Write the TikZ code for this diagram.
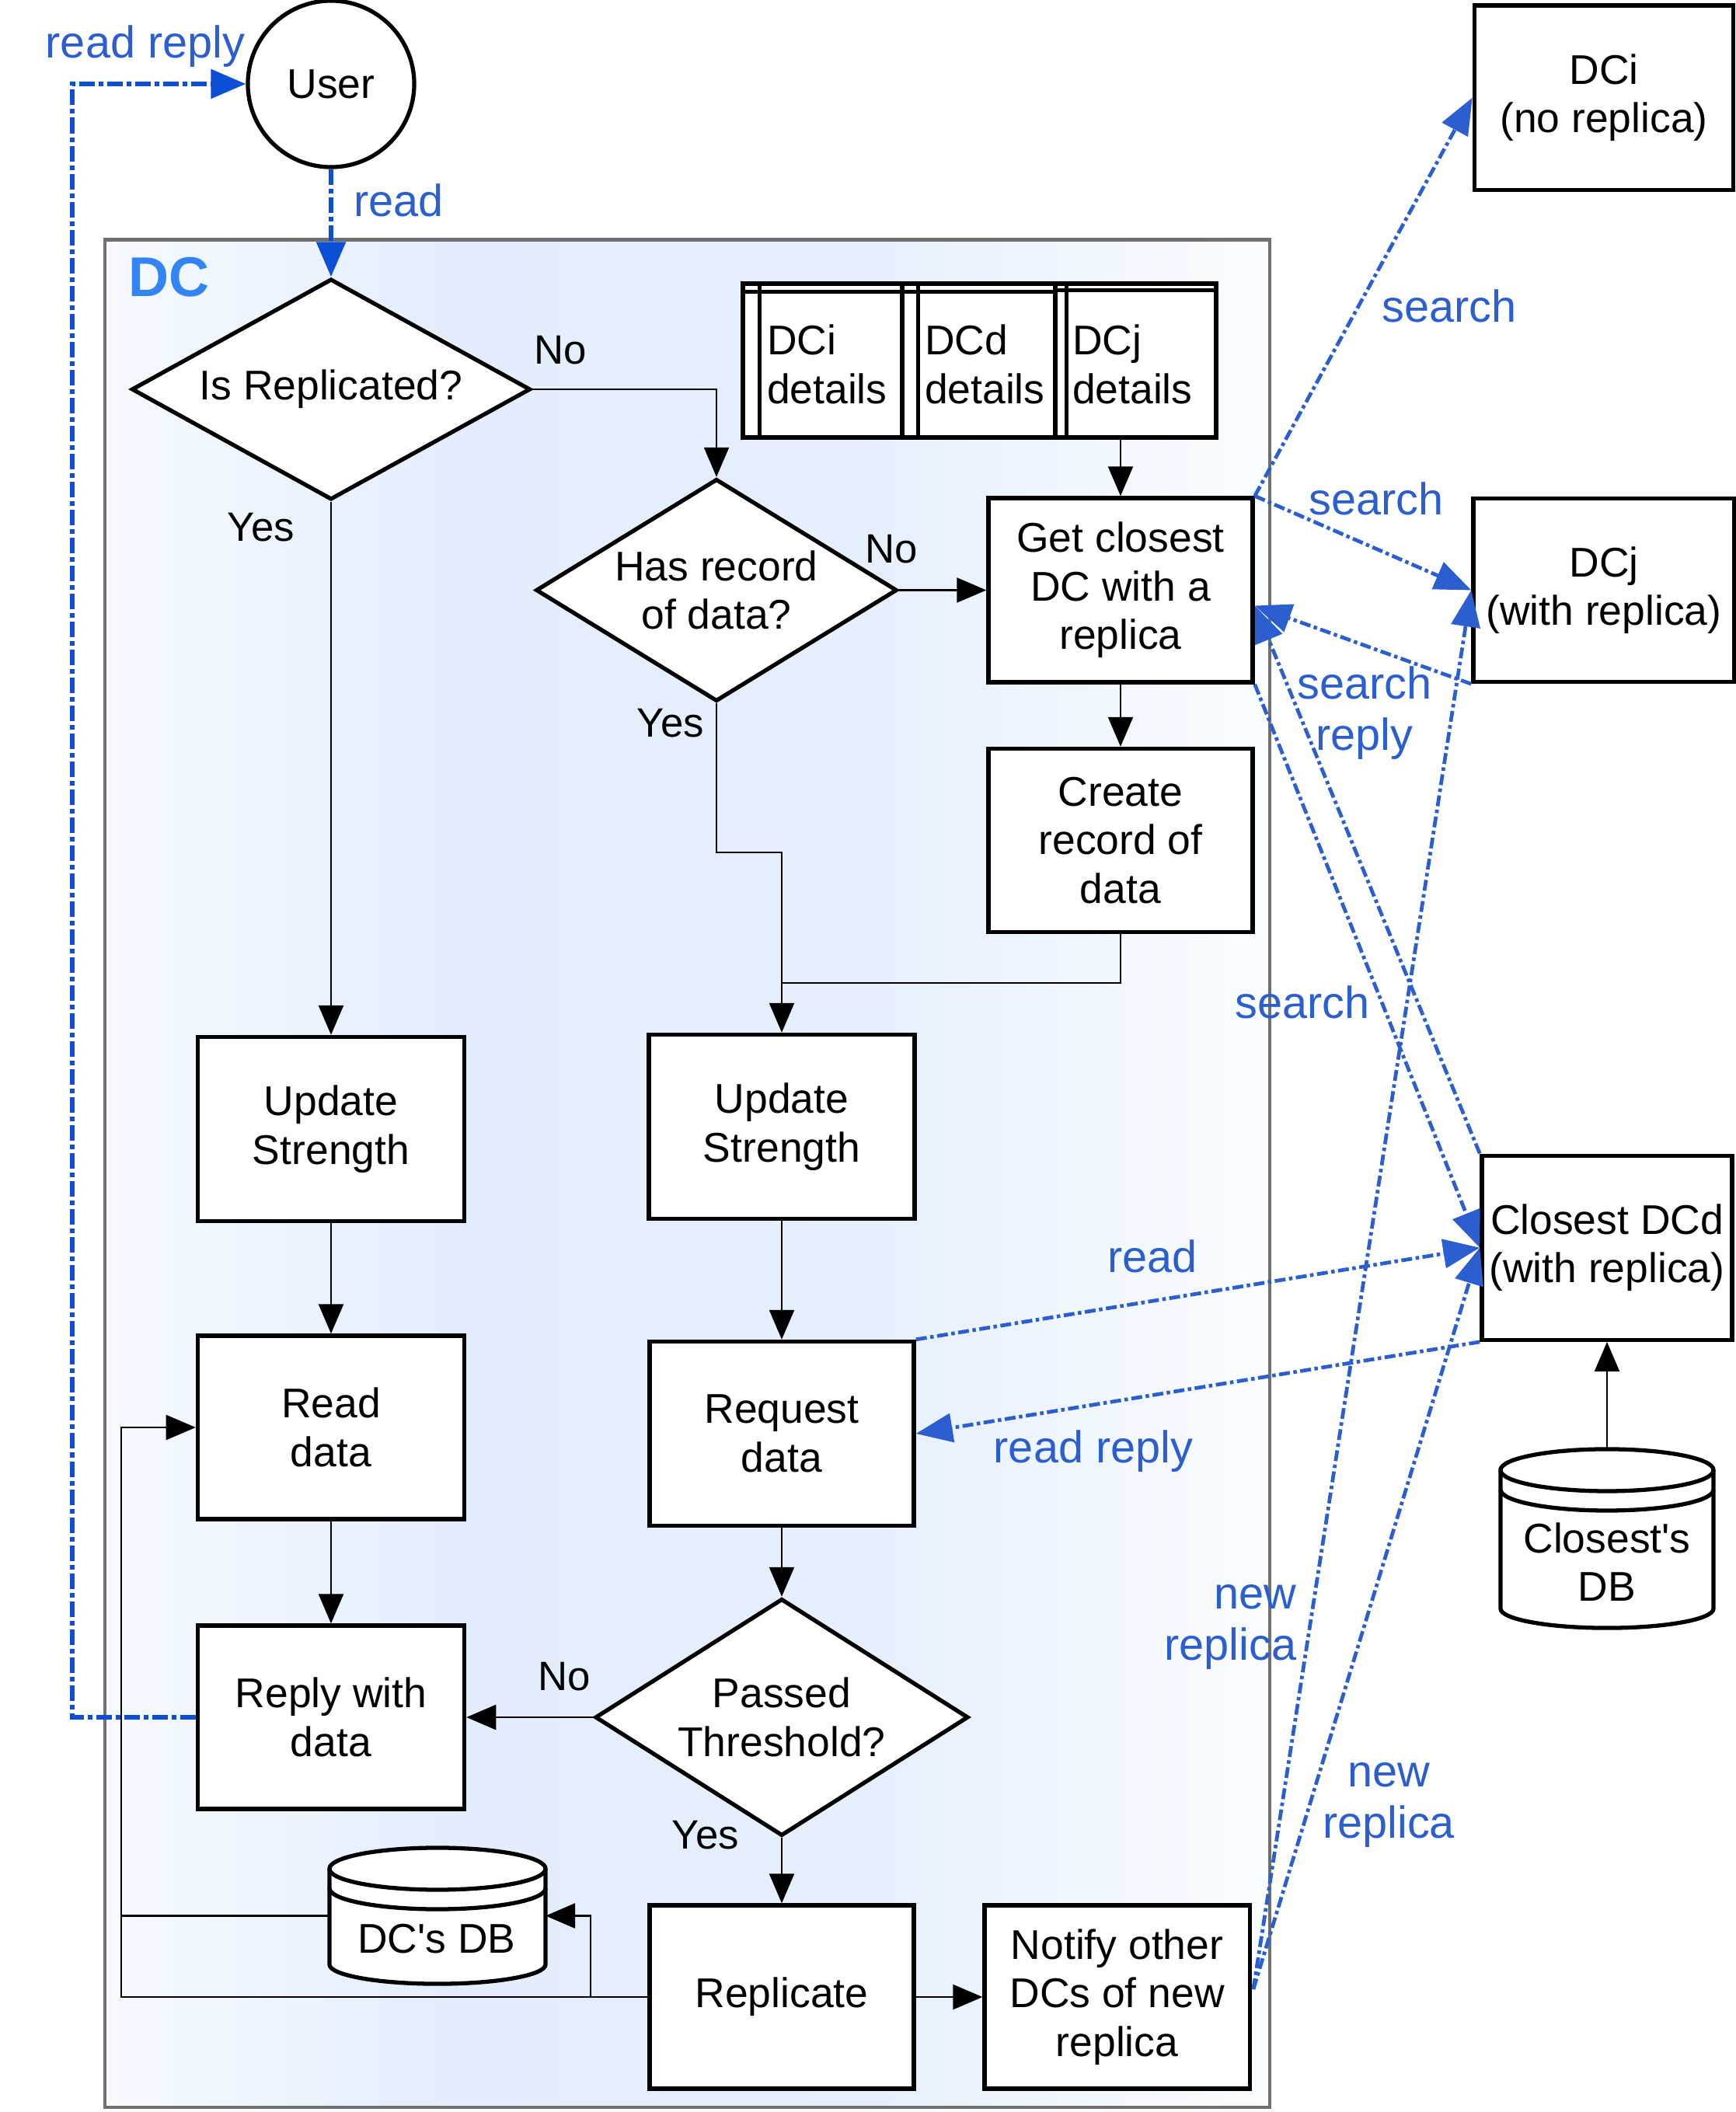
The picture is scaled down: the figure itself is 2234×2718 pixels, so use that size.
\documentclass[tikz,border=0pt]{standalone}
\usepackage{fontspec}
\setmainfont{Liberation Sans}
\usetikzlibrary{shapes.geometric, arrows.meta, calc}

\definecolor{flowblue}{RGB}{43,94,207}
\definecolor{userblue}{RGB}{11,79,214}
\definecolor{dcblue}{RGB}{51,133,245}
\definecolor{framegray}{RGB}{112,112,112}
\definecolor{dcA}{RGB}{246,250,255}
\definecolor{dcB}{RGB}{226,238,253}
\definecolor{dcC}{RGB}{229,240,253}
\definecolor{dcD}{RGB}{250,252,255}

% soft left-to-right tint of the data-centre frame
\pgfdeclarehorizontalshading{dcfill}{100bp}{color(0bp)=(dcA); color(25bp)=(dcA); color(40bp)=(dcB); color(58bp)=(dcC); color(75bp)=(dcD); color(100bp)=(dcD)}

\pgfdeclarelayer{back}
\pgfdeclarelayer{under}
\pgfsetlayers{back,under,main}

% database drum: node name, x radius
\newcommand{\drawdbbody}[2]{%
  \begin{pgfonlayer}{under}
    \draw[shapeline, fill=white]
      ([yshift=-0.27cm]#1.north west) -- ([yshift=0.25cm]#1.south west)
      arc[start angle=180, end angle=360, x radius=#2, y radius=0.25cm]
      -- ([yshift=-0.27cm]#1.north east)
      arc[start angle=0, end angle=180, x radius=#2, y radius=0.27cm] -- cycle;
    \draw[shapeline] ([yshift=-0.27cm]#1.north west)
      arc[start angle=180, end angle=360, x radius=#2, y radius=0.27cm];
    \draw[shapeline] ([yshift=-0.52cm]#1.north west)
      arc[start angle=180, end angle=360, x radius=#2, y radius=0.27cm];
  \end{pgfonlayer}}

\tikzset{
  shapeline/.style={line width=1.5pt, draw=black},
  every node/.style={font=\fontsize{15.2}{17.8}\selectfont},
  box/.style={shapeline, rectangle, fill=white, align=center, inner sep=0pt,
    minimum width=3.4cm, minimum height=2.37cm},
  decision/.style={shapeline, diamond, fill=white, align=center, inner sep=0pt},
  cell/.style={shapeline, rectangle, fill=white, inner sep=0pt, minimum height=1.98cm},
  celltext/.style={align=left, inner sep=0pt, anchor=west},
  drum/.style={rectangle, draw=none, inner sep=0pt, outer sep=0pt},
  drumtext/.style={align=center, inner sep=0pt},
  flow/.style={line width=0.65pt, -{Triangle[length=0.38cm, width=0.32cm]}},
  link/.style={line width=0.65pt},
  msg/.style={draw=flowblue, line width=1.35pt,
    dash pattern=on 0.14cm off 0.045cm on 0.045cm off 0.045cm,
    -{Triangle[length=0.47cm, width=0.37cm, fill=flowblue]}},
  usermsg/.style={draw=userblue, line width=1.6pt,
    dash pattern=on 0.2cm off 0.05cm on 0.06cm off 0.05cm,
    -{Triangle[length=0.45cm, width=0.37cm, fill=userblue]}},
  msglabel/.style={text=flowblue, font=\fontsize{16.4}{18.8}\selectfont,
    align=center, inner sep=0pt},
  answer/.style={font=\fontsize{15}{17.7}\selectfont, inner sep=0pt},
  dclabel/.style={text=dcblue, font=\fontsize{20.5}{24}\selectfont\bfseries, inner sep=0pt}
}

\begin{document}
\begin{tikzpicture}[x=0.01cm, y=0.01cm]
\useasboundingbox (0,0) rectangle (2234,-2718);

% data-centre frame
\begin{pgfonlayer}{back}
  \shade[shading=dcfill] (135,-308.5) rectangle (1634,-2712);
  \draw[framegray, line width=1.2pt] (135,-308.5) rectangle (1634,-2712);
\end{pgfonlayer}
\node[dclabel] (dctitle) at (218,-357) {DC};

% user
\node[shapeline, circle, fill=white, minimum size=2.14cm, inner sep=0pt] (user) at (426,-108) {User};

% left column
\node[decision, aspect=1.806, minimum width=5.13cm, minimum height=2.84cm] (isrep) at (426,-501) {Is Replicated?};
\node[box, minimum width=3.43cm] (us1) at (426,-1453) {Update\\Strength};
\node[box, minimum width=3.43cm, minimum height=2.36cm] (read) at (426,-1837) {Read\\data};
\node[box, minimum width=3.43cm, minimum height=2.36cm] (reply) at (426,-2210) {Reply with\\data};

% middle column
\node[decision, aspect=1.62, minimum width=4.645cm, minimum height=2.86cm] (hasrec) at (922,-759.5) {Has record\\of data?};
\node[box, minimum width=3.42cm] (us2) at (1006,-1450) {Update\\Strength};
\node[box] (request) at (1006,-1845) {Request\\data};
\node[decision, aspect=1.574, minimum width=4.8cm, minimum height=3.05cm] (passed) at (1006,-2210) {Passed\\Threshold?};
\node[box, minimum height=2.36cm] (replicate) at (1006,-2570) {Replicate};

% right column
\node[box] (getc) at (1442,-759.5) {Get closest\\DC with a\\replica};
\node[box, minimum height=2.36cm] (create) at (1442,-1081.5) {Create\\record of\\data};
\node[box, minimum width=3.41cm, minimum height=2.36cm] (notify) at (1437.6,-2570) {Notify other\\DCs of new\\replica};

% DC details store
\node[cell, minimum width=2.05cm] (c1) at (1058.5,-464) {};
\node[cell, minimum width=1.97cm] (c2) at (1259.5,-464) {};
\node[cell, minimum width=2.07cm] (c3) at (1461.5,-464) {};
\draw[shapeline] ([xshift=0.24cm]c1.north west) -- ([xshift=0.24cm]c1.south west);
\draw[shapeline] ([yshift=-0.13cm]c1.north west) -- ([yshift=-0.13cm]c1.north east);
\draw[shapeline] ([xshift=0.23cm]c2.north west) -- ([xshift=0.23cm]c2.south west);
\draw[shapeline] ([yshift=-0.13cm]c2.north west) -- ([yshift=-0.13cm]c2.north east);
\draw[shapeline] ([xshift=0.17cm]c3.north west) -- ([xshift=0.17cm]c3.south west);
\draw[shapeline] ([yshift=-0.11cm]c3.north west) -- ([yshift=-0.11cm]c3.north east);
\node[celltext] (t1) at ([xshift=0.33cm, yshift=-0.05cm]c1.west) {DCi\\details};
\node[celltext] (t2) at ([xshift=0.31cm, yshift=-0.05cm]c2.west) {DCd\\details};
\node[celltext] (t3) at ([xshift=0.24cm, yshift=-0.05cm]c3.west) {DCj\\details};

% DC's database
\node[drum, minimum width=2.78cm, minimum height=1.75cm] (db) at (563,-2465.5) {};
\drawdbbody{db}{1.39cm}
\node[drumtext] (dbtxt) at (562,-2495) {DC\textquotesingle s DB};

% remote data centres
\node[box, minimum width=3.33cm] (dci) at (2064,-125.6) {DCi\\(no replica)};
\node[box, minimum width=3.36cm, minimum height=2.36cm] (dcj) at (2064,-759.5) {DCj\\(with replica)};
\node[box, minimum width=3.22cm] (closest) at (2068,-1605.7) {Closest DCd\\(with replica)};
\node[drum, minimum width=2.74cm, minimum height=2.3cm] (cdb) at (2068,-1980) {};
\drawdbbody{cdb}{1.37cm}
\node[drumtext] (cdbtxt) at (2068,-2010) {Closest\textquotesingle s\\DB};

% decision answers
\node[answer] (no1) at (721,-451) {No};
\node[answer] (yes1) at (336,-679) {Yes};
\node[answer] (no2) at (1147,-707) {No};
\node[answer] (yes2) at (863,-931) {Yes};
\node[answer] (no3) at (726,-2158) {No};
\node[answer] (yes3) at (908,-2362) {Yes};

% local flow
\coordinate (joinA) at (1006,-1097);
\coordinate (joinB) at (1006,-1265);
\coordinate (loopL) at (156,-2570);
\coordinate (toDB) at (760,-2570);

\draw[flow] (isrep.east) -| (hasrec.north);
\draw[flow] (isrep.south) -- (us1.north);
\draw[flow] (hasrec.east) -- (getc.west);
\draw[flow] (c3.south -| getc.north) -- (getc.north);
\draw[flow] (getc.south) -- (create.north);
\draw[flow] (hasrec.south) |- (joinA) -- (us2.north);
\draw[link] (create.south) |- (joinB);
\draw[flow] (us1.south) -- (read.north);
\draw[flow] (read.south) -- (reply.north);
\draw[flow] (us2.south) -- (request.north);
\draw[flow] (request.south) -- (passed.north);
\draw[flow] (passed.west) -- (reply.east);
\draw[flow] (passed.south) -- (replicate.north);
\draw[flow] (replicate.east) -- (notify.west);
\draw[flow] (replicate.west) -- (loopL) |- (read.west);
\draw[flow] (toDB) |- (db.east);
\draw[link] (db.west) -- (db.west -| loopL);
\draw[flow] (cdb.north) -- (closest.south);

% messages between user and DC
\coordinate (replyTurn) at (93,-108);
\draw[usermsg] (user.south) -- (isrep.north);
\draw[usermsg] (reply.west) -| (replyTurn) -- (user.west);
\node[msglabel] (lblread) at (513,-258) {read};
\node[msglabel] (lblreadreply) at (187,-60) {read reply};

% messages between data centres
\coordinate (getcIn) at ($(getc.east)+(0,-20)$);
\coordinate (notifyOut) at ($(notify.east)+(2,10)$);
\draw[msg] (getc.north east) -- (dci.west);
\draw[msg] (getc.north east) -- (dcj.west);
\draw[msg] (dcj.south west) -- (getcIn);
\draw[msg] (closest.north west) -- (getcIn);
\draw[msg] (getc.south east) -- (closest.west);
\draw[msg] (request.north east) -- (closest.west);
\draw[msg] (closest.south west) -- (request.east);
\draw[msg] (notifyOut) -- (dcj.west);
\draw[msg] (notifyOut) -- (closest.west);

\node[msglabel] (lbls1) at (1865,-394) {search};
\node[msglabel] (lbls2) at (1771,-642) {search};
\node[msglabel] (lblsr) at (1756,-918) {search\\reply};
\node[msglabel] (lbls3) at (1676,-1290) {search};
\node[msglabel] (lblr) at (1483,-1617) {read};
\node[msglabel] (lblrr) at (1407,-1868) {read reply};
\node[msglabel, align=right, anchor=east] (lblnr1) at (1669,-2094) {new\\replica};
\node[msglabel] (lblnr2) at (1787,-2323) {new\\replica};
\end{tikzpicture}
\end{document}
